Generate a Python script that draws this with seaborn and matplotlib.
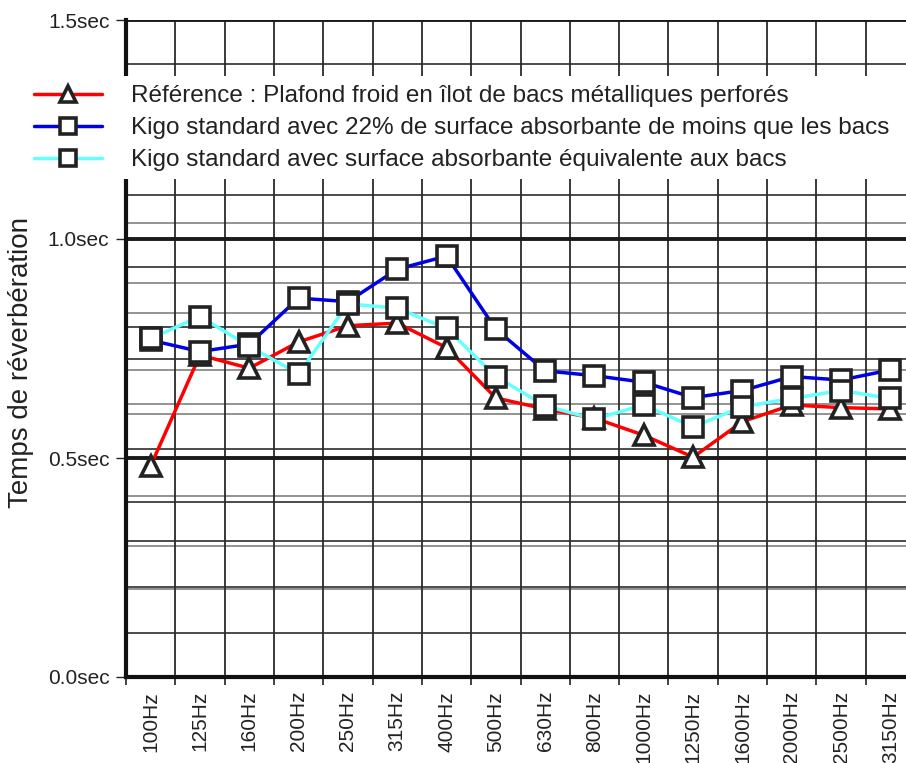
import numpy as np
import pandas as pd
import matplotlib
matplotlib.use('Agg')
import matplotlib.pyplot as plt
from matplotlib.lines import Line2D
from matplotlib.patches import Rectangle
import seaborn as sns

frequences = ['100Hz', '125Hz', '160Hz', '200Hz', '250Hz', '315Hz', '400Hz', '500Hz',
              '630Hz', '800Hz', '1000Hz', '1250Hz', '1600Hz', '2000Hz', '2500Hz', '3150Hz']

reference = [0.482, 0.735, 0.705, 0.765, 0.802, 0.808, 0.752, 0.637,
             0.612, 0.591, 0.552, 0.502, 0.583, 0.621, 0.615, 0.612]
kigo_22 = [0.769, 0.743, 0.760, 0.865, 0.857, 0.931, 0.961, 0.794,
           0.699, 0.688, 0.673, 0.638, 0.654, 0.686, 0.678, 0.701]
kigo_equiv = [0.773, 0.823, 0.755, 0.692, 0.852, 0.842, 0.796, 0.686,
              0.619, 0.589, 0.621, 0.571, 0.617, 0.636, 0.654, 0.636]

noms = ['Référence : Plafond froid en îlot de bacs métalliques perforés',
        'Kigo standard avec 22% de surface absorbante de moins que les bacs',
        'Kigo standard avec surface absorbante équivalente aux bacs']
couleurs = ['#ff0000', '#0000e6', '#66ffff']
marqueurs = ['^', 's', 's']

y_ticks = [0.0, 0.5, 1.0, 1.5]
y_labels = ['0.0sec', '0.5sec', '1.0sec', '1.5sec']

grille_noire = [0.1, 0.205, 0.31, 0.40, 0.52, 0.725, 0.80, 0.935, 1.10, 1.20, 1.30, 1.40]
grille_grise = [0.20, 0.30, 0.413, 0.60, 0.623, 0.70, 0.83, 0.90, 1.037]

df = pd.DataFrame({
    'freq': frequences * 3,
    'valeur': reference + kigo_22 + kigo_equiv,
    'serie': [noms[0]] * 16 + [noms[1]] * 16 + [noms[2]] * 16,
})

sns.set_style('white')
plt.rcParams['font.family'] = ['Liberation Sans', 'DejaVu Sans']

fig = plt.figure(figsize=(9.06, 7.63), dpi=100)
ax = fig.add_axes([126 / 906, 86 / 763, 789 / 906, 657 / 763])

sns.lineplot(data=df, x='freq', y='valeur', hue='serie', style='serie',
             palette=dict(zip(noms, couleurs)), markers=dict(zip(noms, marqueurs)),
             dashes=False, sort=False, legend=False, ax=ax, linewidth=2.5,
             markersize=14, markerfacecolor='white', markeredgecolor='#222222',
             markeredgewidth=2.6, zorder=5)

ax.set_xlim(-0.5, 15.5)
ax.set_ylim(0, 1.5)

# grille
for y in grille_grise:
    ax.axhline(y, color='#8a8a8a', lw=1.3, zorder=1)
for y in grille_noire:
    ax.axhline(y, color='#1a1a1a', lw=1.1, zorder=1)
for y in [0.5, 1.0, 1.5]:
    ax.axhline(y, color='#1a1a1a', lw=2.8, zorder=2)
for x in np.arange(0.5, 15.5, 1):
    ax.axvline(x, color='#2a2a2a', lw=1.3, zorder=1)

ax.set_yticks(y_ticks)
ax.set_yticklabels(y_labels, fontsize=15, color='#222222')
ax.set_xticks(range(16))
ax.set_xticklabels(frequences, rotation=90, fontsize=15, color='#222222')
ax.set_xticks(np.arange(-0.5, 16, 1), minor=True)
ax.tick_params(axis='x', which='major', length=0, pad=10)
ax.tick_params(axis='x', which='minor', length=6, width=1.2, color='#222222', bottom=True)
ax.tick_params(axis='y', length=7, width=1, color='#222222', left=True, pad=5)

ax.set_xlabel('')
ax.set_ylabel('Temps de réverbération', fontsize=20, color='#222222')
ax.yaxis.set_label_coords((34 - 126) / 789, (677 - 362) / 657)

for s in ['top', 'right']:
    ax.spines[s].set_visible(False)
ax.spines['left'].set_linewidth(3)
ax.spines['bottom'].set_linewidth(3)
ax.spines['left'].set_color('#111111')
ax.spines['bottom'].set_color('#111111')

# cadre blanc derrière la légende
fig.patches.append(Rectangle((30 / 906, 1 - 179 / 763), 1, 103 / 763,
                             transform=fig.transFigure, facecolor='white',
                             edgecolor='none', zorder=3))

poignees = [Line2D([], [], color=c, marker=m, lw=2.5, markersize=11,
                   markerfacecolor='white', markeredgecolor='#222222', markeredgewidth=2.6)
            for c, m in zip(couleurs, marqueurs)]
fig.legend(poignees, noms, loc='upper left', bbox_to_anchor=(34 / 906, 1 - 85 / 763),
           frameon=False, fontsize=17.5, handlelength=2.8, handletextpad=1.2,
           labelspacing=0.42, borderpad=0, borderaxespad=0, labelcolor='#222222')

plt.savefig('out.png', dpi=100)
